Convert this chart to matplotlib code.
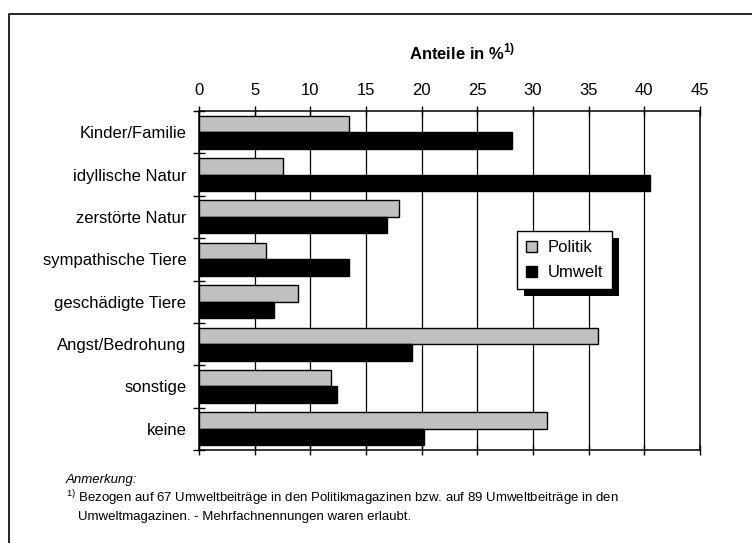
import matplotlib
matplotlib.use("Agg")
import matplotlib.pyplot as plt
from matplotlib.patches import Rectangle
from matplotlib.lines import Line2D
from matplotlib.transforms import IdentityTransform
import numpy as np

plt.rcParams['font.family'] = ['Liberation Sans', 'DejaVu Sans']
plt.rcParams['mathtext.fontset'] = 'custom'
plt.rcParams['mathtext.rm'] = 'Liberation Sans'
plt.rcParams['mathtext.bf'] = 'Liberation Sans:bold'

# Daten (Anteile in %)
categories = ["Kinder/Familie", "idyllische Natur", "zerstörte Natur",
              "sympathische Tiere", "geschädigte Tiere", "Angst/Bedrohung",
              "sonstige", "keine"]
politik = [13.45, 7.55, 18.0, 6.0, 8.9, 35.8, 11.9, 31.3]
umwelt = [28.1, 40.5, 16.9, 13.5, 6.7, 19.1, 12.4, 20.2]
xticks = [0, 5, 10, 15, 20, 25, 30, 35, 40, 45]

fig = plt.figure(figsize=(7.52, 5.43), dpi=100)
ax = fig.add_axes([199 / 752, 93 / 543, 501 / 752, 339 / 543])

y = np.arange(len(categories))
h = 0.39
ax.barh(y - h / 2, politik, height=h, color="#c0c0c0", edgecolor="black",
        linewidth=1, label="Politik", zorder=3)
ax.barh(y + h / 2, umwelt, height=h, color="black", edgecolor="black",
        linewidth=1, label="Umwelt", zorder=3)

ax.set_xlim(0, 45)
ax.set_ylim(len(categories) - 0.5, -0.5)
ax.set_xticks(xticks)
ax.xaxis.tick_top()
ax.tick_params(axis="x", which="both", top=True, bottom=True, direction="inout",
               length=7, width=1, labelsize=12, pad=6)
ax.set_yticks(y)
ax.set_yticklabels(categories)
ax.tick_params(axis="y", which="major", length=0, labelsize=12, pad=9)
ax.set_yticks(np.arange(-0.5, len(categories)), minor=True)
ax.tick_params(axis="y", which="minor", direction="inout", length=8, width=1)
ax.grid(axis="x", color="black", linewidth=0.9, zorder=0)
for s in ax.spines.values():
    s.set_linewidth(1.1)

leg = ax.legend(loc="upper left", bbox_to_anchor=(0.635, 0.646), borderaxespad=0,
                fancybox=False, edgecolor="black", framealpha=1, fontsize=12,
                handlelength=0.66, handleheight=0.66, handletextpad=0.6,
                labelspacing=0.6, borderpad=0.55)
leg.get_frame().set_linewidth(1)
leg.set_zorder(6)

# Schatten der Legende
fig.canvas.draw()
bb = leg.get_window_extent()
ax.add_patch(Rectangle((bb.x0 + 7, bb.y0 - 7), bb.width, bb.height,
                       transform=IdentityTransform(), facecolor="black",
                       edgecolor="none", zorder=5.5, clip_on=False))

fig.text(462 / 752, (543 - 52) / 543, r"Anteile in %$^{\mathbf{1)}}$",
         ha="center", va="center", fontsize=12, fontweight="bold")

fig.text(66 / 752, (543 - 480) / 543, "Anmerkung:", style="italic",
         fontsize=9.5, va="center")
fig.text(66 / 752, (543 - 498) / 543,
         r"$^{1)}$ Bezogen auf 67 Umweltbeiträge in den Politikmagazinen bzw. auf 89 Umweltbeiträge in den",
         fontsize=9.5, va="center")
fig.text(78 / 752, (543 - 517) / 543,
         "Umweltmagazinen. - Mehrfachnennungen waren erlaubt.",
         fontsize=9.5, va="center")

# Rahmen (links und oben)
fig.add_artist(Line2D([9 / 752, 9 / 752, 1.0], [0.0, (543 - 14) / 543, (543 - 14) / 543],
                      transform=fig.transFigure, color="black", linewidth=1.2))

fig.savefig("out.png", dpi=100)
